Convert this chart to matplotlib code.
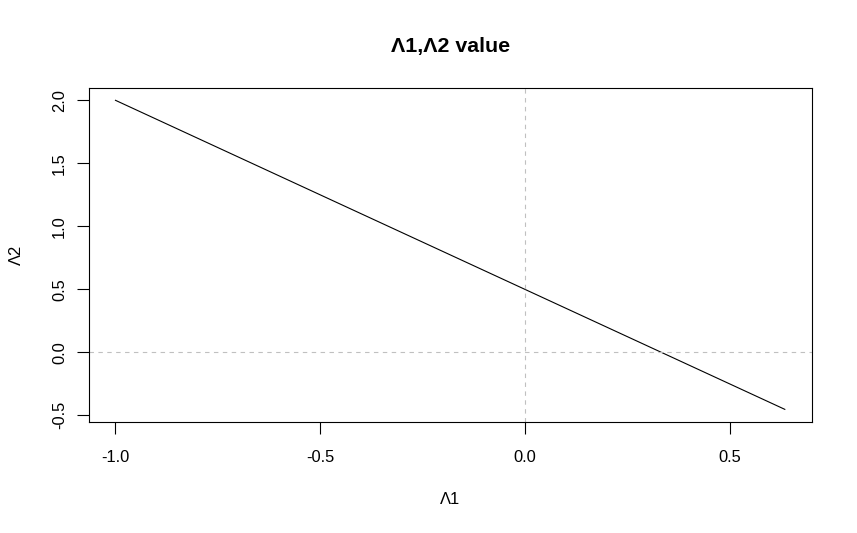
import matplotlib
matplotlib.use('Agg')
import matplotlib.pyplot as plt

# values
lambda1 = [-1.0, -0.5, 0.0, 0.5, 0.635]
lambda2 = [2.0, 1.25, 0.5, -0.25, -0.4525]
x_ticks = [-1.0, -0.5, 0.0, 0.5]
y_ticks = [-0.5, 0.0, 0.5, 1.0, 1.5, 2.0]

plt.rcParams['font.family'] = ['Liberation Sans', 'DejaVu Sans']

fig = plt.figure(figsize=(8.57, 5.33), dpi=100)
ax = fig.add_axes([0.1035, 0.2088, 0.8435, 0.6262])

ax.plot(lambda1, lambda2, color='black', linewidth=0.8)
ax.axhline(0, color='#c0c0c0', linestyle=(0, (4, 4)), linewidth=0.8)
ax.axvline(0, color='#c0c0c0', linestyle=(0, (4, 4)), linewidth=0.8)

# R style 4% padding
xr = max(lambda1) - min(lambda1)
yr = max(lambda2) - min(lambda2)
ax.set_xlim(min(lambda1) - 0.04 * xr, max(lambda1) + 0.04 * xr)
ax.set_ylim(min(lambda2) - 0.04 * yr, max(lambda2) + 0.04 * yr)

ax.set_xticks(x_ticks)
ax.set_xticklabels(['-1.0', '-0.5', '0.0', '0.5'])
ax.set_yticks(y_ticks)
ax.set_yticklabels(['-0.5', '0.0', '0.5', '1.0', '1.5', '2.0'], rotation=90, va='center')
ax.tick_params(direction='out', length=8.5, width=0.8, labelsize=11.9)
ax.tick_params(axis='x', pad=12)
ax.tick_params(axis='y', pad=7)
for s in ax.spines.values():
    s.set_linewidth(0.8)

ax.set_xlabel('Λ1', fontsize=11.9, labelpad=19)
ax.set_ylabel('Λ2', fontsize=11.9, labelpad=20)
ax.set_title('Λ1,Λ2 value', fontsize=15.4, fontweight='bold', pad=26)

fig.savefig('out.png', dpi=100)
